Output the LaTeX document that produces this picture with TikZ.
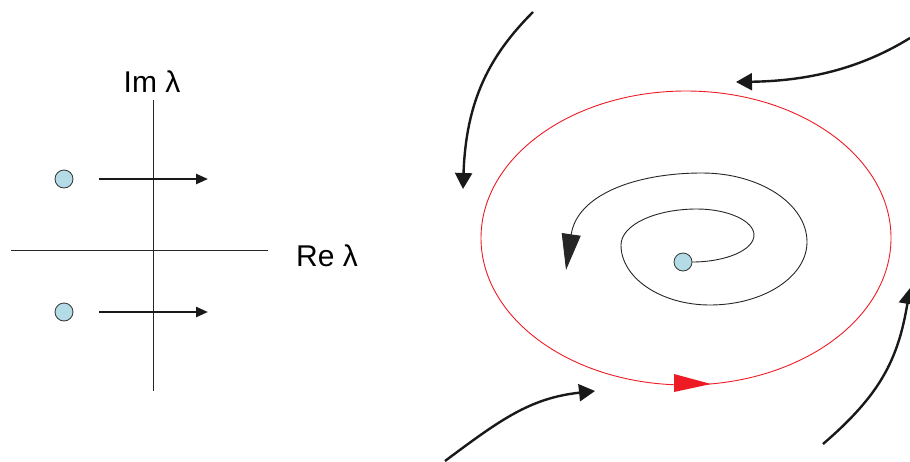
\documentclass[tikz,border=0pt]{standalone}
\usepackage{fontspec}
\setmainfont{Liberation Sans}
\usetikzlibrary{arrows.meta}
\definecolor{dotblue}{RGB}{180,220,230}
\definecolor{redline}{RGB}{237,28,36}
\begin{document}
\begin{tikzpicture}[x=1pt,y=-1pt,
  dot/.style={circle,draw=black!80,line width=0.8pt,fill=dotblue,minimum size=18pt,inner sep=0pt},
  lbl/.style={font=\fontsize{30}{34}\selectfont,inner sep=0pt},
  axis/.style={line width=0.9pt,draw=black!85},
  shortarrow/.style={line width=2.4pt,draw=black!90,-{Triangle[length=12pt,width=10pt]}},
  flow/.style={line width=2.4pt,draw=black!90,-{Triangle[length=16pt,width=17pt]}},
  spiral/.style={line width=0.9pt,draw=black!85}]
\useasboundingbox (0,0) rectangle (910,461);
% left panel
\coordinate (vtop) at (153,100);
\coordinate (vbot) at (153,391);
\coordinate (hl) at (11,250);
\coordinate (hr) at (268,250);
\draw[axis] (vtop) -- (vbot);
\draw[axis] (hl) -- (hr);
\node[lbl] (im) at (152,82) {Im λ};
\node[lbl,anchor=west] (re) at (296,256) {Re λ};
\node[dot] (e1) at (64,179) {};
\node[dot] (e2) at (64,312) {};
\coordinate (a1s) at (99,179);
\coordinate (a1e) at (208,179);
\coordinate (a2s) at (99,312);
\coordinate (a2e) at (208,312);
\draw[shortarrow] (a1s) -- (a1e);
\draw[shortarrow] (a2s) -- (a2e);
% right panel: limit cycle
\draw[redline,line width=0.9pt] (686,238) ellipse [x radius=205, y radius=147];
\fill[redline] (674,374) -- (711,384) -- (674,392) -- cycle;
% spiral
\node[dot] (fp) at (683,262) {};
\coordinate (sp0) at (692,262);
\coordinate (sptip) at (566,270);
\draw[spiral,-{Triangle[length=36pt,width=19pt]}] (sp0)
 .. controls (726,262) and (754,250) .. (754,235)
 .. controls (754,221) and (728,209) .. (697,209)
 .. controls (655,209) and (621,225) .. (621,245)
 .. controls (621,278) and (661,305) .. (710,305)
 .. controls (763,305) and (807,277) .. (807,242)
 .. controls (807,204) and (760,173) .. (702,173)
 .. controls (635,173) and (577,195) .. (sptip);
% outer flow arrows
\coordinate (f1s) at (533,12);
\coordinate (f1e) at (463,189);
\draw[flow] (f1s) .. controls (490,55) and (466,100) .. (f1e);
\coordinate (f2s) at (910,38);
\coordinate (f2e) at (736,82);
\draw[flow] (f2s) .. controls (855,72) and (800,81) .. (f2e);
\coordinate (f3s) at (445,461);
\coordinate (f3e) at (595,391);
\draw[flow] (f3s) .. controls (500,420) and (530,398) .. (f3e);
\coordinate (f4s) at (823,444);
\coordinate (f4e) at (910,288);
\draw[flow] (f4s) .. controls (880,395) and (898,360) .. (f4e);
\end{tikzpicture}
\end{document}
